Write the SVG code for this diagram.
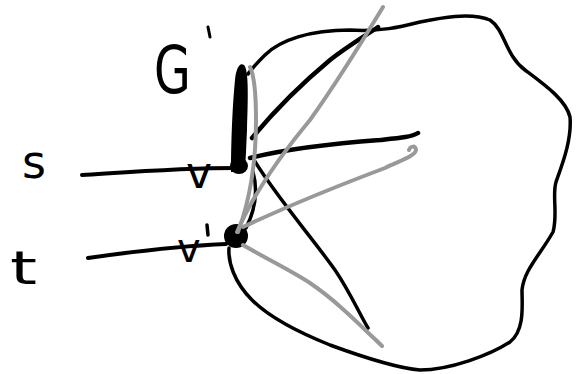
<svg xmlns="http://www.w3.org/2000/svg" width="577" height="374" viewBox="0 0 577 374">
<style>
.k{fill:none;stroke:#000;stroke-linecap:round;stroke-linejoin:round}
.g{fill:none;stroke:#999;stroke-linecap:round;stroke-linejoin:round;stroke-width:4}
.lb{font-family:"DejaVu Sans",sans-serif;fill:#000}
</style>
<rect width="577" height="374" fill="#fff"/>
<g id="blob">
<path class="k" stroke-width="3.5" d="M229,248 C228,262 234,282 252,300 C270,318 300,333 330,345 C360,356 395,368 420,370 C450,370 490,355 510,342 C525,330 522,305 522,290 C524,270 540,255 553,232 C558,215 552,195 556,182 C562,165 572,140 570,117 C566,100 545,85 525,70 C505,55 505,30 490,20 C470,12 440,18 420,22 C400,27 380,32 350,30 C310,30 280,40 265,55 C258,62 252,68 248,74"/>
</g>
<g id="connectors">
<path class="k" stroke-width="4" d="M82,175 C130,172 180,168 237,168"/>
<path class="k" stroke-width="4" d="M88,258 C130,252 180,246 226,244"/>
<path class="k" stroke-width="4.5" d="M252,138 C275,110 300,85 330,60 C348,46 365,36 378,27"/>
<path class="k" stroke-width="4.5" d="M250,158 C290,148 340,143 380,140 C400,138 412,137 418,133"/>
<path class="k" stroke-width="3.5" d="M254,160 C275,195 310,235 335,270 C350,292 360,315 368,328"/>
<path class="k" stroke-width="3.5" d="M253,172 C258,190 255,210 246,228"/>
</g>
<g id="G-prime">
<path d="M244,65 C249,70 248,100 247,130 C246,150 246,163 244,172 L231,172 C231,150 232,110 235,80 C236,70 239,62 244,65 Z" fill="#000"/>
<text class="lb" x="154" y="93" font-size="66" transform="translate(154 0) scale(0.72 1) translate(-154 0)">G</text>
<path class="k" stroke-width="3" d="M208,27 L210,37"/>
</g>
<g id="v">
<ellipse cx="239" cy="166" rx="9" ry="8" fill="#000"/>
<text class="lb" x="186" y="188" font-size="44">v</text>
</g>
<g id="v-prime">
<circle cx="236" cy="236" r="12" fill="#000"/>
<text class="lb" x="177" y="262" font-size="40">v</text>
<path class="k" stroke-width="3.5" d="M207,225 L208,235"/>
</g>
<g id="gray-connectors">
<path class="g" d="M237,232 C255,190 285,150 310,120 C335,85 360,45 383,7"/>
<path class="g" d="M238,232 C250,200 256,160 256,120 C256,95 254,75 250,67"/>
<path class="g" d="M243,227 C290,205 340,185 385,168 C402,160 415,156 416,150 C416,145 410,146 409,150"/>
<path class="g" d="M243,245 C265,258 290,270 310,283 C335,300 355,320 382,346 L376,340"/>
</g>
<g id="s"><text class="lb" x="22" y="178" font-size="46">s</text></g>
<g id="t"><text class="lb" x="10" y="284" font-size="46" transform="translate(10 0) scale(1.5 1) translate(-10 0)">t</text></g>
</svg>
